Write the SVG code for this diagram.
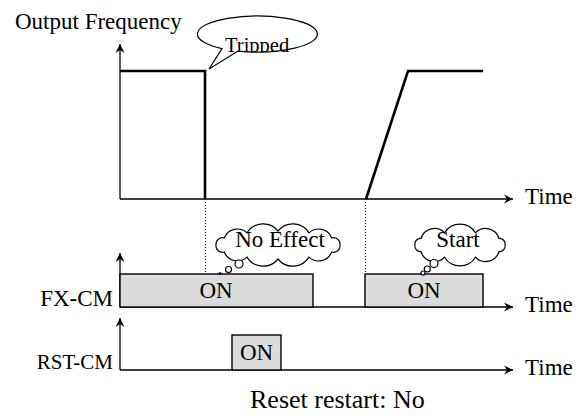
<svg xmlns="http://www.w3.org/2000/svg" width="586" height="416" viewBox="0 0 586 416">
<style>
text{font-family:"Liberation Serif","Times New Roman",serif;fill:#000}
.t23{font-size:23px}
.axis{stroke:#000;stroke-width:1.3;fill:none;marker-end:url(#ah)}
.trace{stroke:#000;stroke-width:2.6;fill:none;stroke-linejoin:miter}
.dot{stroke:#000;stroke-width:1;stroke-dasharray:1 2;fill:none}
.box{fill:#dcdcdc;stroke:#000;stroke-width:1.4}
.bub{fill:#fff;stroke:#000;stroke-width:1.2}
</style>
<defs>
<marker id="ah" markerWidth="12" markerHeight="10" viewBox="-10 -5 12 10" refX="0" refY="0" orient="auto" markerUnits="userSpaceOnUse">
<path d="M0,0 L-9,-4.5 L-6,0 L-9,4.5 Z" fill="#000"/>
</marker>
<clipPath id="tripClip"><rect x="200" y="20" width="110" height="32.5"/></clipPath>
</defs>

<g id="connectors">
<line class="axis" x1="120" y1="199" x2="120" y2="44"/>
<line class="axis" x1="120" y1="199" x2="513" y2="199"/>
<line class="axis" x1="120" y1="307" x2="120" y2="253"/>
<line class="axis" x1="120" y1="307" x2="513" y2="307"/>
<line class="axis" x1="120" y1="370" x2="120" y2="318"/>
<line class="axis" x1="120" y1="370" x2="513" y2="370"/>
<path class="trace" d="M120,71 H205 V199"/>
<path class="trace" d="M366,199 L408,71 H483"/>
<line class="dot" x1="205.5" y1="199" x2="205.5" y2="274"/>
<line class="dot" x1="365.5" y1="199" x2="365.5" y2="274"/>
</g>

<g id="freq-label">
<text class="t23" x="15" y="29">Output Frequency</text>
<text class="t23" x="525" y="204">Time</text>
</g>

<g id="tripped">
<path class="bub" d="M222,48.6 L209,69 L238,51.1 A60,18 0 1,0 222,48.6 Z"/>
<text x="225" y="51.5" font-size="20.5" clip-path="url(#tripClip)">Tripped</text>
</g>

<g id="fx-cm">
<text class="t23" x="113" y="306" text-anchor="end">FX-CM</text>
<rect class="box" x="120" y="274" width="193" height="33"/>
<text class="t23" x="216" y="298" text-anchor="middle">ON</text>
<rect class="box" x="365" y="274" width="118" height="33"/>
<text class="t23" x="424" y="298" text-anchor="middle">ON</text>
<text class="t23" x="525" y="312">Time</text>
</g>

<g id="no-effect">
<path class="bub" d="M216,245 A6.5,6.5 0 0,1 224.3,238 A14,14 0 0,1 247,232.9 A19,19 0 0,1 278,231 A19,19 0 0,1 309,232.9 A14,14 0 0,1 331.7,238 A6.5,6.5 0 0,1 340,245 A6.5,6.5 0 0,1 331.7,252 A14,14 0 0,1 309,257.1 A19,19 0 0,1 278,259 A19,19 0 0,1 247,257.1 A14,14 0 0,1 224.3,252 A6.5,6.5 0 0,1 216,245 Z"/>
<circle class="bub" cx="239" cy="264" r="4"/>
<circle class="bub" cx="228.5" cy="269.5" r="3"/>
<circle cx="220" cy="273.5" r="1.6" fill="#000"/>
<text class="t23" x="280" y="247" text-anchor="middle">No Effect</text>
</g>

<g id="start">
<path class="bub" d="M415,245 A5.5,5.5 0 0,1 421,238.5 A14,14 0 0,1 444.6,232.8 A18,18 0 0,1 475.4,232.8 A14,14 0 0,1 499,238.5 A5.5,5.5 0 0,1 505,245 A5.5,5.5 0 0,1 499,251.5 A14,14 0 0,1 475.4,257.2 A18,18 0 0,1 444.6,257.2 A14,14 0 0,1 421,251.5 A5.5,5.5 0 0,1 415,245 Z"/>
<circle class="bub" cx="434" cy="263.5" r="4"/>
<circle class="bub" cx="427.3" cy="269" r="3"/>
<circle class="bub" cx="423" cy="273" r="2"/>
<text class="t23" x="458" y="247" text-anchor="middle">Start</text>
</g>

<g id="rst-cm">
<text x="113" y="369" font-size="21" text-anchor="end">RST-CM</text>
<rect class="box" x="232" y="335" width="49" height="35"/>
<text class="t23" x="256.5" y="360" text-anchor="middle">ON</text>
<text class="t23" x="525" y="375">Time</text>
</g>

<g id="caption">
<text x="250" y="408" font-size="26">Reset restart: No</text>
</g>
</svg>
